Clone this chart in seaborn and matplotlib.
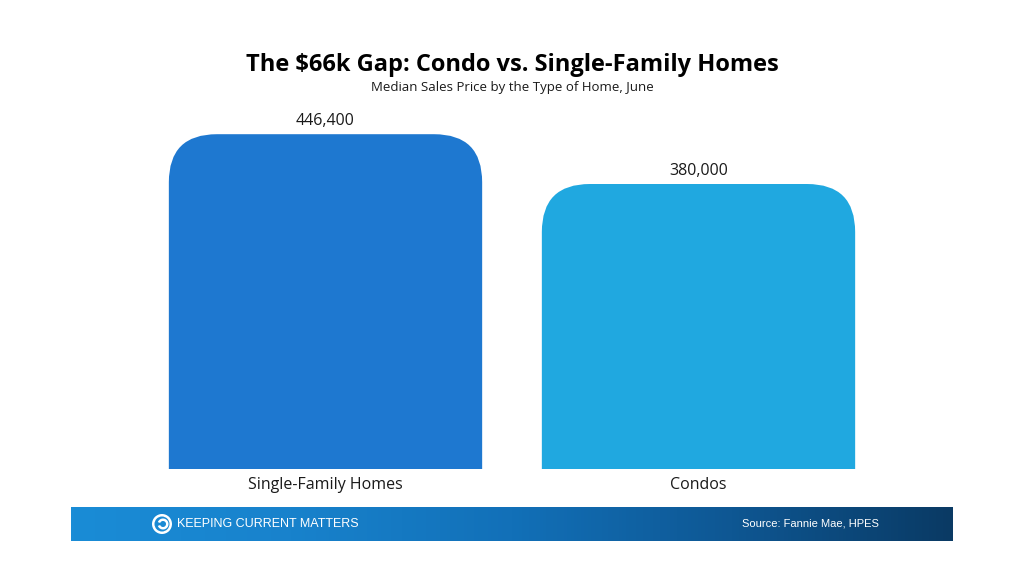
import matplotlib
matplotlib.use("Agg")
import matplotlib.pyplot as plt
import seaborn as sns
import numpy as np
import pandas as pd
from matplotlib.patches import FancyBboxPatch, Circle, Wedge
from matplotlib.colors import LinearSegmentedColormap

# data
categories = ["Single-Family Homes", "Condos"]
prices = [446400, 380000]
bar_colors = ["#1E78D0", "#20A8E0"]

sns.set_theme(style="white")
plt.rcParams['font.family'] = ['Open Sans', 'DejaVu Sans']

df = pd.DataFrame({"type": categories, "price": prices})

fig = plt.figure(figsize=(10.24, 5.76), dpi=100)
ax = fig.add_axes([139/1024, 1-469/576, 746/1024, 375/576])

sns.barplot(data=df, x="type", y="price", hue="type", palette=bar_colors,
            width=0.84, legend=False, ax=ax)
ax.set_xlim(-0.5, 1.5)
ax.set_ylim(0, 500000)

# swap plain bars for ones with rounded tops
x_per_px = 2.0 / 746
y_per_px = 500000 / 375
aspect = y_per_px / x_per_px
r = 48 * x_per_px
for bar, col in zip(list(ax.patches), bar_colors):
    x0, w, h = bar.get_x(), bar.get_width(), bar.get_height()
    bar.remove()
    extra = 100000
    box = FancyBboxPatch((x0, -extra), w, h + extra,
                         boxstyle=f"round,pad=0,rounding_size={r}",
                         mutation_aspect=aspect, facecolor=col,
                         edgecolor="none", clip_on=True)
    ax.add_patch(box)
    ax.annotate(f"{h:,.0f}", (x0 + w / 2, h), xytext=(0, 3.5),
                textcoords="offset points", ha="center", va="bottom",
                fontsize=11.5, color="#1a1a1a")

sns.despine(ax=ax, left=True, bottom=True)
ax.set_yticks([])
ax.set_xlabel("")
ax.set_ylabel("")
ax.tick_params(axis="x", length=0, pad=6, labelsize=11.5, labelcolor="#1a1a1a")

fig.text(0.5, 1-65/576, "The $66k Gap: Condo vs. Single-Family Homes",
         ha="center", va="center", fontsize=17, fontweight="bold", color="#000000")
fig.text(0.5, 1-87/576, "Median Sales Price by the Type of Home, June",
         ha="center", va="center", fontsize=9.5, color="#1a1a1a")

# footer banner
fax = fig.add_axes([71/1024, 1-541/576, 882/1024, 34/576])
cmap = LinearSegmentedColormap.from_list("kcm", ["#1A8CD6", "#1882CC", "#1270B8", "#0E5793", "#0A3A64"])
grad = np.linspace(0, 1, 256).reshape(1, -1)
fax.imshow(grad, aspect="auto", cmap=cmap, extent=(0, 882, 0, 34))
fax.set_xlim(0, 882)
fax.set_ylim(0, 34)
fax.axis("off")
fax.add_patch(Circle((91, 17), 10, facecolor="white", edgecolor="none"))
fax.add_patch(Circle((91, 17), 7.5, facecolor="#1A8AD4", edgecolor="none"))
fax.add_patch(Wedge((92, 17), 5.5, 200, 520, width=2.5, facecolor="white", edgecolor="none"))
fax.text(106, 17, "KEEPING CURRENT MATTERS", ha="left", va="center",
         fontsize=9, color="white", family=["Liberation Sans Narrow", "Liberation Sans", "DejaVu Sans"])
fax.text(808, 17, "Source: Fannie Mae, HPES", ha="right", va="center",
         fontsize=8, color="white", family=["Liberation Sans", "DejaVu Sans"])

fig.savefig("out.png", dpi=100, facecolor="white")
